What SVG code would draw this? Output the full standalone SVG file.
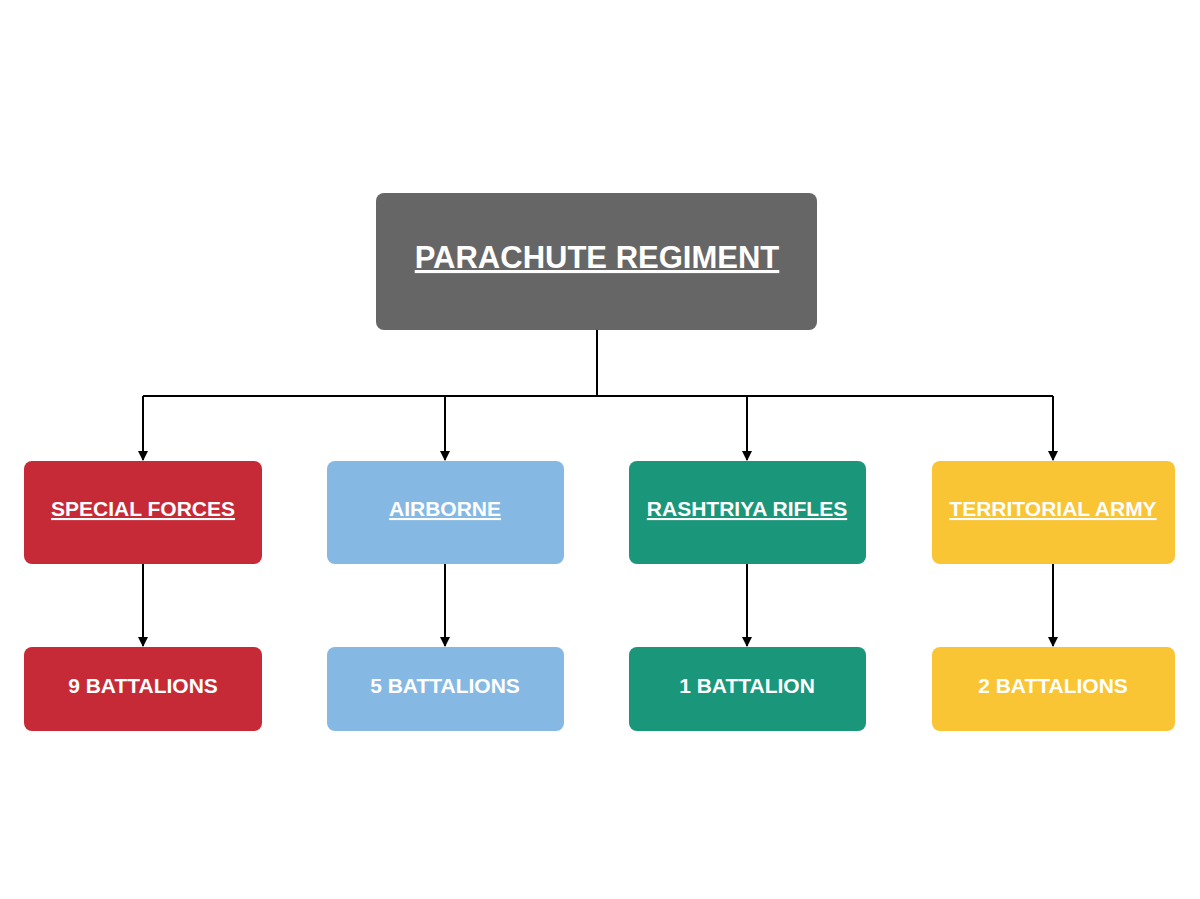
<svg xmlns="http://www.w3.org/2000/svg" width="1200" height="899" viewBox="0 0 1200 899">
<style>
text{font-family:"Liberation Sans",Arial,sans-serif;font-weight:bold;fill:#fff;text-anchor:middle}
.t{font-size:21px;text-decoration:underline}
.b{font-size:21px}
.c{stroke:#000;stroke-width:2;fill:none}
</style>
<defs><marker id="a" markerWidth="10" markerHeight="10" refX="9" refY="5" orient="auto" markerUnits="userSpaceOnUse"><path d="M0,0L10,5L0,10z" fill="#000"/></marker></defs>
<rect width="1200" height="899" fill="#fff"/>
<g id="connectors">
<path class="c" d="M597,330V396M143,396H1053"/>
<path class="c" marker-end="url(#a)" d="M143,396V460"/>
<path class="c" marker-end="url(#a)" d="M445,396V460"/>
<path class="c" marker-end="url(#a)" d="M747,396V460"/>
<path class="c" marker-end="url(#a)" d="M1053,396V460"/>
<path class="c" marker-end="url(#a)" d="M143,564V646"/>
<path class="c" marker-end="url(#a)" d="M445,564V646"/>
<path class="c" marker-end="url(#a)" d="M747,564V646"/>
<path class="c" marker-end="url(#a)" d="M1053,564V646"/>
</g>
<g id="root"><rect x="376" y="193" width="441" height="137" rx="8" fill="#666"/><text x="597" y="268" style="font-size:31px;text-decoration:underline">PARACHUTE REGIMENT</text></g>
<g id="sf"><rect x="24" y="461" width="238" height="103" rx="8" fill="#C62A36"/><text class="t" x="143" y="516">SPECIAL FORCES</text></g>
<g id="ab"><rect x="327" y="461" width="237" height="103" rx="8" fill="#85B9E3"/><text class="t" x="445" y="516">AIRBORNE</text></g>
<g id="rr"><rect x="629" y="461" width="237" height="103" rx="8" fill="#1A967A"/><text class="t" x="747" y="516">RASHTRIYA RIFLES</text></g>
<g id="ta"><rect x="932" y="461" width="243" height="103" rx="8" fill="#F9C535"/><text class="t" x="1053" y="516">TERRITORIAL ARMY</text></g>
<g id="sf2"><rect x="24" y="647" width="238" height="84" rx="8" fill="#C62A36"/><text class="b" x="143" y="693">9 BATTALIONS</text></g>
<g id="ab2"><rect x="327" y="647" width="237" height="84" rx="8" fill="#85B9E3"/><text class="b" x="445" y="693">5 BATTALIONS</text></g>
<g id="rr2"><rect x="629" y="647" width="237" height="84" rx="8" fill="#1A967A"/><text class="b" x="747" y="693">1 BATTALION</text></g>
<g id="ta2"><rect x="932" y="647" width="243" height="84" rx="8" fill="#F9C535"/><text class="b" x="1053" y="693">2 BATTALIONS</text></g>
</svg>
